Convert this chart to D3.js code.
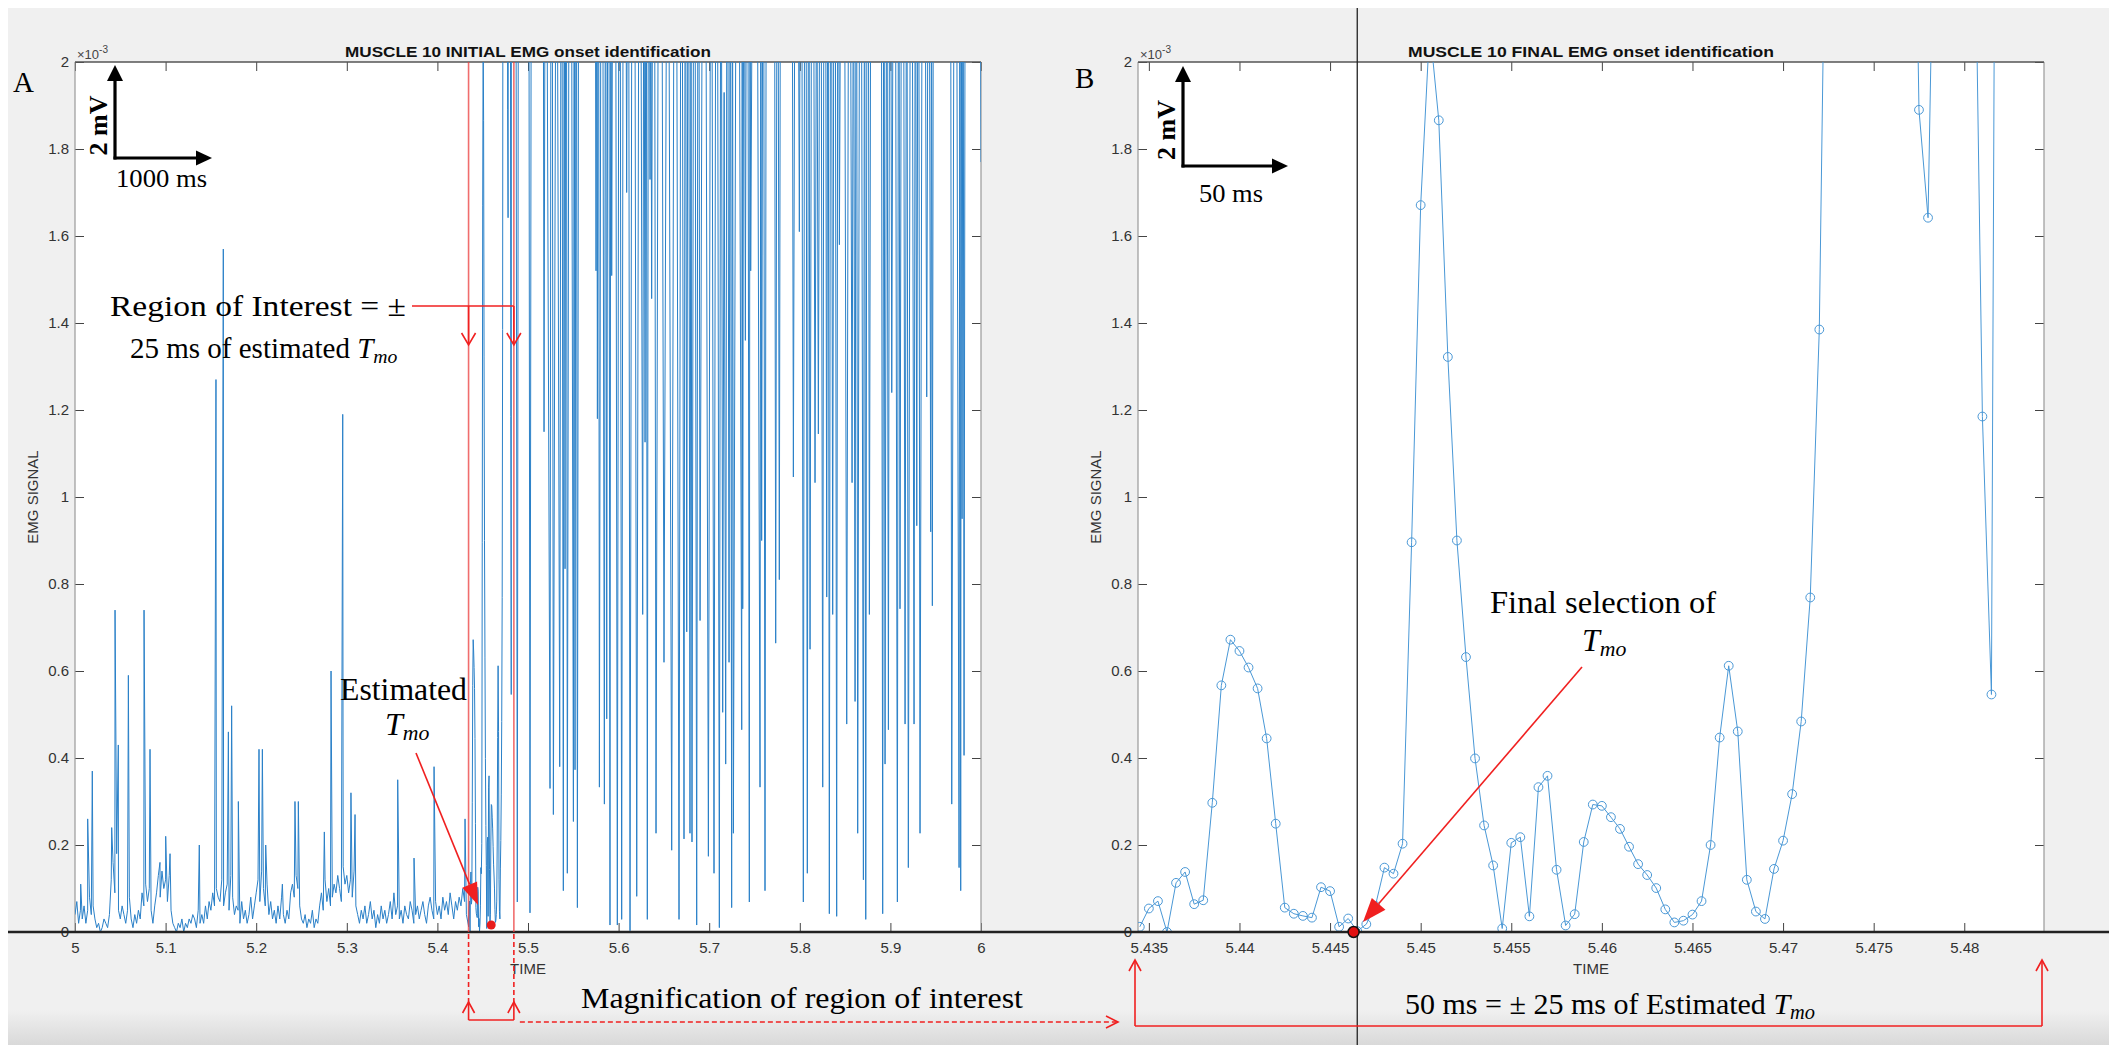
<!DOCTYPE html>
<html>
<head>
<meta charset="utf-8">
<script src="https://cdn.jsdelivr.net/npm/d3@7"></script>
<style>
  body { margin: 0; background: #fff; }
  svg text { font-family: "Liberation Sans", Arial, sans-serif; }
  .serif { font-family: "Liberation Serif", "Times New Roman", serif !important; }
</style>
</head>
<body>
<div id="chart"></div>
<script>
// ---- data (values in units of 1e-3, as on the y axis) ----
var yTicks = [0, 0.2, 0.4, 0.6, 0.8, 1, 1.2, 1.4, 1.6, 1.8, 2];
var xTicksA = [5, 5.1, 5.2, 5.3, 5.4, 5.5, 5.6, 5.7, 5.8, 5.9, 6];
var xTicksB = [5.435, 5.44, 5.445, 5.45, 5.455, 5.46, 5.465, 5.47, 5.475, 5.48];

// quiet part of the trace, one value every 2 ms from 5.000 s
var quietStart = 5.0, quietStep = 0.002;
var quietVals = [
  0.04,0.07,0.02,0.05,0.03,0.06,0.02,0.05,0.08,0.04,
  0.06,0.03,0.01,0.02,0.00,0.01,0.03,0.02,0.01,0.04,
  0.12,0.16,0.09,0.18,0.05,0.03,0.06,0.04,0.02,0.05,
  0.08,0.03,0.01,0.04,0.02,0.05,0.03,0.09,0.06,0.11,
  0.07,0.10,0.05,0.02,0.06,0.09,0.13,0.08,0.14,0.10,
  0.12,0.07,0.13,0.05,0.02,0.01,0.00,0.02,0.01,0.03,
  0.00,0.02,0.01,0.03,0.02,0.04,0.03,0.01,0.05,0.02,
  0.04,0.02,0.06,0.03,0.07,0.05,0.09,0.06,0.10,0.08,
  0.07,0.12,0.06,0.09,0.11,0.05,0.13,0.08,0.04,0.06,
  0.05,0.02,0.07,0.03,0.05,0.02,0.04,0.08,0.03,0.06,
  0.09,0.12,0.07,0.14,0.10,0.06,0.11,0.04,0.07,0.03,
  0.05,0.02,0.06,0.03,0.08,0.04,0.02,0.05,0.03,0.09,
  0.11,0.08,0.13,0.10,0.06,0.03,0.02,0.04,0.01,0.03,
  0.02,0.05,0.01,0.03,0.02,0.06,0.09,0.05,0.12,0.07,
  0.10,0.06,0.08,0.11,0.09,0.13,0.10,0.07,0.15,0.11,
  0.13,0.09,0.12,0.08,0.14,0.06,0.04,0.02,0.05,0.03,
  0.06,0.02,0.04,0.07,0.03,0.05,0.01,0.04,0.02,0.06,
  0.03,0.05,0.02,0.04,0.07,0.03,0.09,0.04,0.06,0.03,
  0.05,0.02,0.06,0.04,0.03,0.07,0.05,0.02,0.04,0.06,
  0.03,0.05,0.07,0.04,0.02,0.06,0.08,0.05,0.03,0.07,
  0.04,0.06,0.03,0.08,0.05,0.07,0.04,0.09,0.06,0.03,
  0.07,0.05,0.08,0.06,0.10,0.07,0.04
];

// isolated spikes in the quiet part (ms after 5 s)
var spikeMs = [6.3,14.0,19.1,40.5,44.2,47.8,58.9,76.2,82.8,93.8,100.1,104.9,137.2,155.6,163.7,169.3,
  172.9,180.3,203.1,206.8,210.5,228.9,242.8,246.5,275.2,282.6,295.5,304.6,309.1,356.2,374.2,396.3,430.5];
var spikeV = [0.11,0.26,0.37,0.24,0.74,0.43,0.59,0.74,0.42,0.16,0.22,0.18,0.20,1.27,1.57,0.46,
  0.52,0.30,0.42,0.42,0.20,0.11,0.30,0.30,0.23,0.60,1.19,0.32,0.27,0.35,0.17,0.38,0.26];

// region of interest, sampled every 0.5 ms from 5.4345 s (panel B)
var roiStart = 5.4345, roiStep = 0.0005;
var roiVals = [
  0.012,0.054,0.071,0.000,0.113,0.138,0.064,0.073,0.297,0.567,
  0.672,0.646,0.608,0.560,0.445,0.249,0.056,0.042,0.037,0.033,
  0.103,0.094,0.012,0.031,0.002,0.018,0.060,0.148,0.134,0.203,
  0.896,1.671,2.080,1.866,1.322,0.900,0.632,0.399,0.245,0.153,
  0.008,0.205,0.218,0.036,0.333,0.359,0.143,0.015,0.041,0.207,
  0.293,0.290,0.264,0.237,0.196,0.156,0.131,0.101,0.052,0.022,
  0.026,0.040,0.071,0.200,0.447,0.612,0.461,0.120,0.047,0.030,
  0.145,0.210,0.317,0.484,0.769,1.385,2.900,3.600,4.200,3.800,
  4.500,3.900,3.100,2.700,2.400,3.200,1.890,1.642,2.800,3.500,
  3.900,3.300,2.600,1.185,0.546,5.500,4.800,4.000,4.600,3.700
];

// burst after the onset (ms after 5 s, value) - peaks are above the axis limit
var burstMs = [486,488.2,489.8,500.5,502.2,504,516,517.7,519.5,524.3,526,528,531.5,535,537,539.0,540,540.9,542,543.4,
  546.5,550.1,551,551.9,553.2,554.5,556.5,573.5,575.1,575.8,576.6,577.7,578.8,581.5,584.3,585.6,586.9,588.7,590.5,591.4,
  592.4,595.5,598.6,601,603.4,606,608.9,610.7,612.6,616.3,620.0,623.3,626.6,627.9,629.2,630.4,631.7,633.2,634.7,635.6,
  636.5,638.9,641.3,645.7,650.1,654.3,658.6,662.6,666.7,669.4,672.2,673.7,675.2,677,678.8,679.9,681.0,683.6,686.2,688,
  689.9,694.5,699.1,702.2,705.3,708.2,711.2,713,714.9,716.5,718.2,720,721.9,723.3,724.8,725.7,726.7,731.3,735.9,736.4,
  737.0,738.4,739.9,742.1,744.3,745,745.8,751,756.1,757,757.9,759.7,761.6,763.5,771.5,773.4,775.4,777.4,779.5,790.8,
  792.9,796.2,799.5,801.7,803.9,806.1,808.3,809.8,811.3,814,816.8,818.6,820.5,822.9,825.3,827.5,829.7,831.1,832.6,834.4,
  836.3,838.5,840.7,842.2,843.7,847.7,851.8,854.7,857.7,859.3,861.0,862.4,863.9,867,870.2,871.5,872.8,874.8,876.8,879,
  889.5,891.5,892.8,894.1,896,897.8,899.6,901.5,904.6,907.7,909.1,910.6,913.4,916.2,918,919.8,923,926.1,927.6,929.1,
  930.9,932.7,936.4,940.1,942.3,944.5,945.4,946.3,948,966,967.7,971.7,975.8,976.7,977.6,978.3,979.1,980.2,981.3,983,
  998,1000];
var burstV = [3.4,0.069,3.1,3.3,0.044,3.0,3.5,1.15,3.0,0.33,3.6,0.27,2.9,0.38,3.1,0.095,2.7,0.835,3.3,0.135,
  3.8,0.254,2.6,0.373,3.0,0.056,3.4,3.1,1.52,2.4,1.18,3.0,0.333,3.5,0.294,2.8,0.49,3.6,0.016,2.5,
  1.509,3.9,0.016,3.3,0.029,3.7,1.70,3.0,0.003,4.1,0.082,3.2,0.73,2.6,1.126,2.9,0.029,3.1,1.73,2.3,
  1.456,3.4,0.227,3.8,0.62,3.0,0.188,3.5,0.029,3.2,0.214,2.8,0.69,3.0,0.227,2.4,0.207,3.3,0.016,3.1,
  0.716,3.6,0.174,3.0,0.135,3.4,0.01,2.9,0.505,1.93,0.386,3.0,0.62,2.7,0.056,2.5,0.227,3.5,0.465,2.2,
  0.743,2.9,1.36,3.2,0.069,2.6,1.52,3.7,0.333,2.5,0.90,3.0,0.095,3.3,3.1,0.664,3.0,0.81,3.4,3.2,
  1.046,3.5,1.61,3.1,0.069,3.6,0.135,2.9,0.65,3.3,1.033,2.4,1.145,3.0,0.333,3.7,0.77,2.8,0.042,3.2,
  0.73,3.4,0.036,2.9,1.58,3.6,0.478,3.1,1.033,2.5,0.53,3.0,0.227,3.3,0.12,2.7,0.029,3.5,0.73,3.0,
  3.2,0.042,2.8,0.386,2.6,0.465,3.1,1.24,3.4,0.069,2.9,0.743,3.6,0.478,2.7,0.148,3.3,0.478,2.6,0.934,
  3.0,0.227,3.5,1.23,2.9,0.92,2.3,0.75,3.1,3.2,0.294,3.4,0.148,2.6,0.095,2.4,0.95,2.7,0.406,3.2,
  3.4,1.77];

var roiRange = [5.4344, 5.4844];
var estTmo = [5.4594, 0.016];
var finalTmo = [5.4463, 0];
var finalLineT = 5.4465;

// ---- layout ----
var W = 2109, H = 1045;
var plotTop = 62, plotBottom = 932;
var xA = d3.scaleLinear().domain([5, 6]).range([75, 981]);
var xB = d3.scaleLinear().domain(roiRange).range([1138, 2044]);
var y = d3.scaleLinear().domain([0, 2]).range([plotBottom, plotTop]);

var svg = d3.select("#chart").append("svg").attr("width", W).attr("height", H);
var defs = svg.append("defs");

var grad = defs.append("linearGradient").attr("id", "shade").attr("x1", 0).attr("x2", 0).attr("y1", 0).attr("y2", 1);
grad.append("stop").attr("offset", "0%").attr("stop-color", "#f0f0f0");
grad.append("stop").attr("offset", "100%").attr("stop-color", "#d9d9d9");

svg.append("rect").attr("width", W).attr("height", H).attr("fill", "#fff");
svg.append("rect").attr("x", 8).attr("y", 8).attr("width", W - 8).attr("height", H - 8).attr("fill", "#f0f0f0");
svg.append("rect").attr("x", 8).attr("y", 1010).attr("width", W - 8).attr("height", 35).attr("fill", "url(#shade)");

// build trace for panel A
var traceA = [];
quietVals.forEach(function(v, i) { traceA.push([quietStart + i * quietStep, v]); });
spikeMs.forEach(function(m, i) { traceA.push([5 + m / 1000, spikeV[i]]); });
roiVals.forEach(function(v, i) { traceA.push([roiStart + i * roiStep, v]); });
burstMs.forEach(function(m, i) { traceA.push([5 + m / 1000, burstV[i]]); });
traceA.sort(function(a, b) { return a[0] - b[0]; });

var traceB = roiVals.map(function(v, i) { return [roiStart + i * roiStep, v]; });

function drawPanel(x, xticks, id, title, data, markers) {
  var x0 = x.range()[0], x1 = x.range()[1];
  var g = svg.append("g");
  g.append("rect").attr("x", x0).attr("y", plotTop).attr("width", x1 - x0).attr("height", plotBottom - plotTop).attr("fill", "#fff");

  defs.append("clipPath").attr("id", id).append("rect")
    .attr("x", x0).attr("y", plotTop).attr("width", x1 - x0).attr("height", plotBottom - plotTop);

  var fmt = function(d) { return String(+d.toFixed(3)); };

  g.append("g").attr("transform", "translate(0," + plotBottom + ")")
    .call(d3.axisBottom(x).tickValues(xticks).tickSizeInner(-9).tickSizeOuter(0).tickPadding(10).tickFormat(fmt));
  g.append("g").attr("transform", "translate(0," + plotTop + ")")
    .call(d3.axisTop(x).tickValues(xticks).tickSizeInner(-9).tickSizeOuter(0).tickFormat(""));
  g.append("g").attr("transform", "translate(" + x0 + ",0)")
    .call(d3.axisLeft(y).tickValues(yTicks).tickSizeInner(-9).tickSizeOuter(0).tickPadding(6).tickFormat(fmt));
  g.append("g").attr("transform", "translate(" + x1 + ",0)")
    .call(d3.axisRight(y).tickValues(yTicks).tickSizeInner(-9).tickSizeOuter(0).tickFormat(""));

  g.selectAll(".domain").remove();
  g.selectAll(".tick line").attr("stroke", "#444").attr("stroke-width", 1);
  g.selectAll(".tick text").attr("fill", "#333").style("font-size", "15px");

  // box
  g.append("line").attr("x1", x0).attr("x2", x0).attr("y1", plotTop).attr("y2", plotBottom).attr("stroke", "#999").attr("stroke-width", 1.2);
  g.append("line").attr("x1", x1).attr("x2", x1).attr("y1", plotTop).attr("y2", plotBottom).attr("stroke", "#999").attr("stroke-width", 1.2);
  g.append("line").attr("x1", x0).attr("x2", x1).attr("y1", plotTop).attr("y2", plotTop).attr("stroke", "#555").attr("stroke-width", 1.5);

  var line = d3.line().x(function(d) { return x(d[0]); }).y(function(d) { return y(d[1]); });
  var plot = g.append("g").attr("clip-path", "url(#" + id + ")");
  plot.append("path").datum(data).attr("d", line).attr("fill", "none")
    .attr("stroke", markers ? "#4a98d6" : "#2a80c8").attr("stroke-width", 1);
  if (markers) {
    plot.selectAll("circle").data(data.filter(function(d) { return d[1] <= 2.05; })).enter().append("circle")
      .attr("cx", function(d) { return x(d[0]); }).attr("cy", function(d) { return y(d[1]); })
      .attr("r", 4.4).attr("fill", "none").attr("stroke", "#4a98d6").attr("stroke-width", 1);
  }

  var cx = (x0 + x1) / 2;
  g.append("text").attr("x", cx).attr("y", 57).attr("text-anchor", "middle")
    .style("font-size", "15px").style("font-weight", "bold").attr("fill", "#111")
    .attr("textLength", 366).attr("lengthAdjust", "spacingAndGlyphs").text(title);
  g.append("text").attr("x", cx).attr("y", 974).attr("text-anchor", "middle")
    .style("font-size", "15px").attr("fill", "#333").text("TIME");
  g.append("text").attr("transform", "translate(" + (x0 - 37) + "," + ((plotTop + plotBottom) / 2) + ") rotate(-90)")
    .attr("text-anchor", "middle").style("font-size", "15px").attr("fill", "#333").text("EMG SIGNAL");
  var ex = g.append("text").attr("x", x0 + 2).attr("y", 59).attr("fill", "#444").style("font-size", "13px");
  ex.append("tspan").text("\u00d710");
  ex.append("tspan").attr("dy", -6).style("font-size", "10px").text("-3");
  return g;
}

drawPanel(xA, xTicksA, "clipA", "MUSCLE 10 INITIAL EMG onset identification", traceA, false);
drawPanel(xB, xTicksB, "clipB", "MUSCLE 10 FINAL EMG onset identification", traceB, true);

// long black zero line and the vertical line through the final onset
svg.append("line").attr("x1", 8).attr("x2", W).attr("y1", y(0)).attr("y2", y(0)).attr("stroke", "#222").attr("stroke-width", 2.5);
svg.append("line").attr("x1", xB(finalLineT)).attr("x2", xB(finalLineT)).attr("y1", 8).attr("y2", H)
  .attr("stroke", "#222").attr("stroke-width", 1.3);

// region of interest lines in A
var red = "#f02020";
roiRange.forEach(function(t) {
  svg.append("line").attr("x1", xA(t)).attr("x2", xA(t)).attr("y1", plotTop).attr("y2", plotBottom)
    .attr("stroke", "rgba(235,60,60,0.75)").attr("stroke-width", 1.6);
});

// markers
svg.append("circle").attr("cx", xA(estTmo[0])).attr("cy", y(estTmo[1])).attr("r", 4.5).attr("fill", "#e81c1c");
svg.append("circle").attr("cx", xB(finalTmo[0])).attr("cy", y(finalTmo[1])).attr("r", 5.5)
  .attr("fill", "#e01010").attr("stroke", "#111").attr("stroke-width", 1.5);

// ---- annotation helpers ----
function vHead(x, yy, dir, s) {
  s = s || 1;
  var pts;
  if (dir === "up") pts = [[x - 6, yy + 11], [x, yy], [x + 6, yy + 11]];
  else if (dir === "down") pts = [[x - 7, yy - 12], [x, yy], [x + 7, yy - 12]];
  else pts = [[x - 12, yy - 6], [x, yy], [x - 12, yy + 6]];
  svg.append("path").attr("d", d3.line()(pts)).attr("fill", "none").attr("stroke", red).attr("stroke-width", 1.6 * s);
}
function seg(x1, y1, x2, y2, dash) {
  svg.append("line").attr("x1", x1).attr("y1", y1).attr("x2", x2).attr("y2", y2)
    .attr("stroke", red).attr("stroke-width", 1.6).attr("stroke-dasharray", dash ? "5,3" : null);
}
function pointer(x1, y1, x2, y2, len, w, color, sw) {
  var a = Math.atan2(y2 - y1, x2 - x1);
  var bx = x2 - len * Math.cos(a), by = y2 - len * Math.sin(a);
  var nx = -Math.sin(a) * w, ny = Math.cos(a) * w;
  svg.append("line").attr("x1", x1).attr("y1", y1).attr("x2", bx).attr("y2", by)
    .attr("stroke", color).attr("stroke-width", sw);
  svg.append("path").attr("d", d3.line()([[x2, y2], [bx + nx, by + ny], [bx - nx, by - ny]]) + "Z").attr("fill", color);
}
function serif(x, yy, txt, size, anchor) {
  return svg.append("text").attr("class", "serif").attr("x", x).attr("y", yy)
    .attr("text-anchor", anchor || "start").style("font-size", size + "px").attr("fill", "#000").text(txt);
}
function tmo(t, size) {
  t.append("tspan").style("font-style", "italic").text("T");
  t.append("tspan").style("font-style", "italic").style("font-size", (size * 0.68) + "px").attr("dy", 5).text("mo");
}

// scale bars
function scaleBar(xv, ytip, ycorner, xtip, vLabel, hLabel, hx, hy, hLen) {
  pointer(xv, ycorner + 1.5, xv, ytip, 16, 8, "#000", 3.2);
  pointer(xv - 1.5, ycorner, xtip, ycorner, 16, 7.5, "#000", 3.2);
  svg.append("text").attr("class", "serif").attr("transform", "translate(" + (xv - 8) + "," + ((ytip + ycorner) / 2 + 14) + ") rotate(-90)")
    .attr("text-anchor", "middle").style("font-size", "26px").style("font-weight", "bold").text(vLabel);
  serif(hx, hy, hLabel, 26).attr("textLength", hLen).attr("lengthAdjust", "spacingAndGlyphs");
}
scaleBar(115, 65, 158, 212, "2 mV", "1000 ms", 116, 187, 91);
scaleBar(1183, 66, 166, 1288, "2 mV", "50 ms", 1199, 202, 64);

serif(13, 92, "A", 29);
serif(1075, 88, "B", 29);

// region of interest note
serif(110, 316, "Region of Interest = \u00b1", 29).attr("textLength", 296).attr("lengthAdjust", "spacingAndGlyphs");
var r2 = serif(130, 358, "25 ms of estimated ", 29);
tmo(r2, 29);
seg(412, 306, xA(roiRange[1]), 306);
seg(xA(roiRange[0]), 306, xA(roiRange[0]), 344);
seg(xA(roiRange[1]), 306, xA(roiRange[1]), 344);
vHead(xA(roiRange[0]), 345, "down");
vHead(xA(roiRange[1]), 345, "down");

// estimated onset note
serif(340, 700, "Estimated", 32).attr("textLength", 127).attr("lengthAdjust", "spacingAndGlyphs");
var e2 = serif(385, 735, "", 32);
tmo(e2, 32);
pointer(416, 753, 478, 905, 22, 8, red, 1.6);

// final onset note
serif(1490, 613, "Final selection of", 31).attr("textLength", 226).attr("lengthAdjust", "spacingAndGlyphs");
var f2 = serif(1582, 651, "", 32);
tmo(f2, 32);
pointer(1582, 667, 1363, 922, 24, 9, red, 1.6);

// magnification bracket under A
[roiRange[0], roiRange[1]].forEach(function(t) {
  seg(xA(t), plotBottom + 2, xA(t), 1002, true);
  seg(xA(t), 1002, xA(t), 1020);
  vHead(xA(t), 1002, "up");
});
seg(xA(roiRange[0]), 1020, xA(roiRange[1]), 1020);
seg(xA(roiRange[1]) + 6, 1022, 1117, 1022, true);
vHead(1118, 1022, "right");
serif(581, 1008, "Magnification of region of interest", 30).attr("textLength", 442).attr("lengthAdjust", "spacingAndGlyphs");

// 50 ms bracket under B
var bx0 = xB.range()[0] - 3, bx1 = xB.range()[1] - 2;
seg(bx0, 1026, bx1, 1026);
seg(bx0, 1026, bx0, 961);
seg(bx1, 1026, bx1, 961);
vHead(bx0, 960, "up");
vHead(bx1, 960, "up");
var m2 = serif(1405, 1014, "50 ms = \u00b1 25 ms of Estimated ", 30);
tmo(m2, 30);
</script>
</body>
</html>
